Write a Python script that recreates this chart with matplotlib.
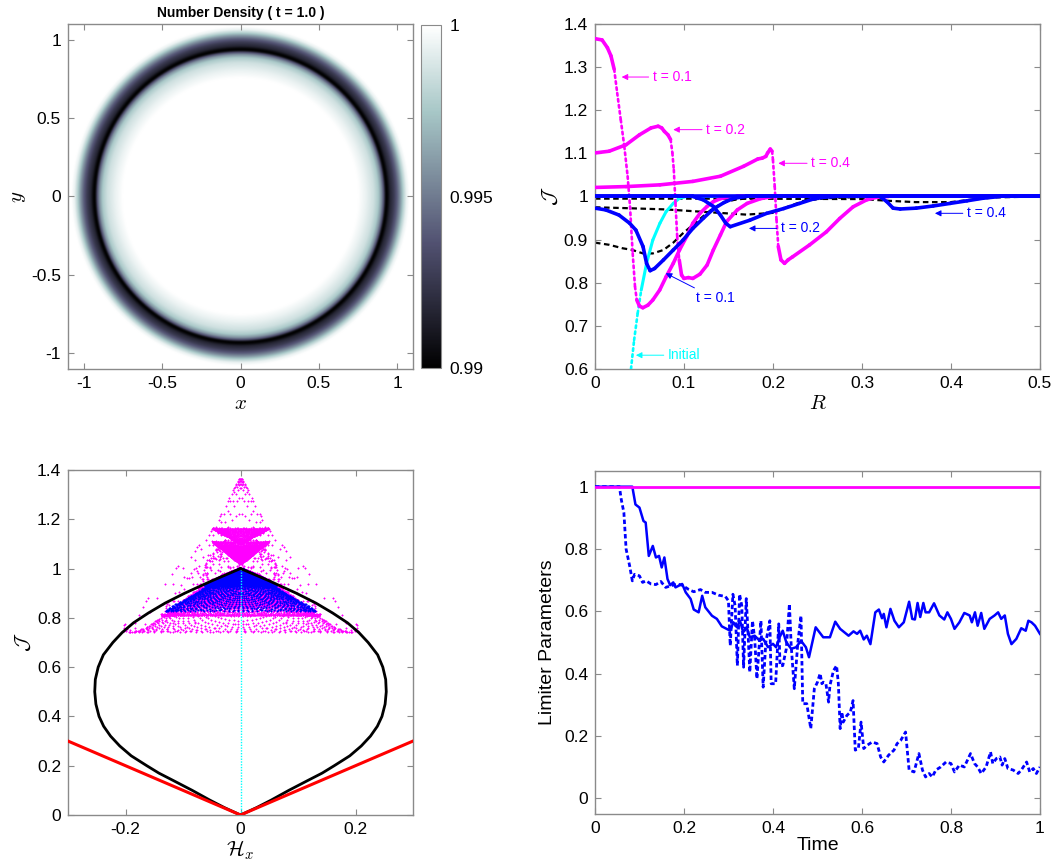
import numpy as np
import matplotlib
matplotlib.use("Agg")
import matplotlib.pyplot as plt
from matplotlib.collections import LineCollection
from matplotlib.ticker import FuncFormatter

plt.rcParams['font.family'] = ['Liberation Sans', 'DejaVu Sans']
plt.rcParams['mathtext.fontset'] = 'cm'

# ---------------- number density ring (radial profile at t = 1.0) ----------------
RING_R = [0.00, 0.75, 0.80, 0.85, 0.88, 0.90, 0.915, 0.925, 0.932, 0.940, 0.955, 0.980, 1.000, 1.020,
          1.040, 1.060, 1.080, 1.60]
RING_N = [1.0000, 1.0000, 0.9994, 0.9986, 0.9976, 0.9958, 0.9935, 0.9908, 0.9900, 0.9903, 0.9916,
          0.9927, 0.9940, 0.9958, 0.9979, 0.9994, 1.0000, 1.0000]
CBAR_TICKS = [0.99, 0.995, 1.0]

# ---------------- radial profiles of J (and flux magnitude H) ----------------
# magenta (no limiter) at t = 0.1, 0.2, 0.4
MAG1_R = [0.000, 0.008, 0.014, 0.018, 0.0216, 0.025, 0.029, 0.033, 0.0367, 0.0394, 0.0424, 0.045, 0.047,
          0.050, 0.0538, 0.0595, 0.065, 0.0727, 0.080, 0.088, 0.095, 0.103, 0.110, 0.118, 0.126, 0.133,
          0.141, 0.148, 0.160, 0.500]
MAG1_J = [1.366, 1.363, 1.345, 1.326, 1.295, 1.240, 1.178, 1.116, 1.047, 0.977, 0.868, 0.791, 0.760,
          0.746, 0.742, 0.748, 0.760, 0.783, 0.814, 0.845, 0.876, 0.907, 0.938, 0.961, 0.977, 0.988,
          0.995, 0.998, 1.000, 1.000]
MAG1_H = [0.000, 0.003, 0.007, 0.012, 0.018, 0.030, 0.045, 0.065, 0.092, 0.125, 0.165, 0.195, 0.208,
          0.205, 0.195, 0.180, 0.165, 0.150, 0.132, 0.115, 0.098, 0.080, 0.060, 0.043, 0.028, 0.017,
          0.008, 0.003, 0.000, 0.000]

MAG2_R = [0.000, 0.016, 0.035, 0.050, 0.063, 0.071, 0.075, 0.078, 0.082, 0.085, 0.087, 0.0886, 0.0905,
          0.0924, 0.0947, 0.0973, 0.100, 0.105, 0.110, 0.118, 0.126, 0.133, 0.141, 0.148, 0.160, 0.171,
          0.186, 0.200, 0.500]
MAG2_J = [1.101, 1.105, 1.120, 1.143, 1.159, 1.163, 1.159, 1.151, 1.143, 1.132, 1.101, 1.062, 0.984,
          0.907, 0.853, 0.818, 0.810, 0.812, 0.810, 0.820, 0.841, 0.876, 0.911, 0.942, 0.969, 0.984,
          0.995, 1.000, 1.000]
MAG2_H = [0.000, 0.003, 0.015, 0.033, 0.045, 0.049, 0.046, 0.040, 0.034, 0.025, 0.030, 0.055, 0.085,
          0.115, 0.130, 0.137, 0.139, 0.135, 0.132, 0.125, 0.112, 0.095, 0.075, 0.055, 0.035, 0.020,
          0.008, 0.000, 0.000]

MAG4_R = [0.000, 0.035, 0.073, 0.110, 0.141, 0.167, 0.183, 0.188, 0.192, 0.194, 0.197, 0.199, 0.200,
          0.202, 0.204, 0.206, 0.209, 0.213, 0.217, 0.222, 0.241, 0.260, 0.275, 0.290, 0.305, 0.316,
          0.330, 0.500]
MAG4_J = [1.021, 1.023, 1.027, 1.035, 1.047, 1.070, 1.087, 1.089, 1.093, 1.101, 1.110, 1.105, 1.085,
          1.023, 0.946, 0.884, 0.853, 0.845, 0.853, 0.860, 0.8875, 0.918, 0.949, 0.976, 0.992, 0.998,
          1.000, 1.000]
MAG4_H = [0.000, 0.001, 0.003, 0.008, 0.015, 0.027, 0.037, 0.038, 0.040, 0.045, 0.050, 0.047, 0.040,
          0.060, 0.070, 0.080, 0.088, 0.092, 0.090, 0.088, 0.075, 0.058, 0.040, 0.022, 0.010, 0.004,
          0.000, 0.000]

# blue (limited scheme) at t = 0.1, 0.2, 0.4
BLU1_R = [0.000, 0.012, 0.027, 0.039, 0.046, 0.054, 0.058, 0.062, 0.067, 0.077, 0.088, 0.099, 0.110,
          0.122, 0.133, 0.145, 0.156, 0.170, 0.500]
BLU1_J = [0.973, 0.969, 0.957, 0.938, 0.922, 0.884, 0.845, 0.828, 0.833, 0.853, 0.876, 0.899, 0.926,
          0.950, 0.971, 0.986, 0.996, 1.000, 1.000]
BLU1_H = [0.000, 0.008, 0.025, 0.045, 0.060, 0.090, 0.115, 0.130, 0.128, 0.115, 0.095, 0.078, 0.060,
          0.040, 0.022, 0.010, 0.003, 0.000, 0.000]

BLU2_R = [0.000, 0.110, 0.122, 0.133, 0.141, 0.147, 0.152, 0.174, 0.193, 0.212, 0.230, 0.245, 0.256,
          0.270, 0.500]
BLU2_J = [1.000, 1.000, 0.992, 0.977, 0.957, 0.938, 0.930, 0.945, 0.961, 0.972, 0.984, 0.994, 0.998,
          1.000, 1.000]
BLU2_H = [0.000, 0.000, 0.008, 0.025, 0.045, 0.058, 0.062, 0.052, 0.038, 0.027, 0.016, 0.007, 0.003,
          0.000, 0.000]

BLU4_R = [0.000, 0.320, 0.328, 0.335, 0.343, 0.361, 0.380, 0.399, 0.418, 0.436, 0.455, 0.500]
BLU4_J = [1.000, 1.000, 0.988, 0.973, 0.971, 0.973, 0.978, 0.984, 0.990, 0.996, 1.000, 1.000]
BLU4_H = [0.000, 0.000, 0.010, 0.022, 0.025, 0.023, 0.019, 0.014, 0.009, 0.004, 0.000, 0.000]

# black dashed reference solutions
REF1_R = [0.000, 0.016, 0.031, 0.042, 0.054, 0.065, 0.077, 0.088, 0.099, 0.110, 0.122, 0.133, 0.145,
          0.156, 0.171, 0.200, 0.500]
REF1_J = [0.893, 0.888, 0.880, 0.876, 0.868, 0.868, 0.876, 0.893, 0.915, 0.934, 0.955, 0.973, 0.986,
          0.992, 0.996, 0.999, 1.000]
REF2_R = [0.000, 0.035, 0.080, 0.140, 0.170, 0.200, 0.215, 0.235, 0.260, 0.300, 0.500]
REF2_J = [0.975, 0.973, 0.970, 0.962, 0.958, 0.962, 0.975, 0.990, 0.996, 0.999, 1.000]
REF4_R = [0.000, 0.150, 0.300, 0.330, 0.360, 0.400, 0.420, 0.450, 0.500]
REF4_J = [0.995, 0.995, 0.994, 0.990, 0.987, 0.987, 0.992, 0.998, 1.000]

# initial condition
INIT_R = [0.000, 0.020, 0.030, 0.036, 0.0405, 0.044, 0.048, 0.052, 0.058, 0.065, 0.073, 0.080, 0.088,
          0.095, 0.103, 0.500]
INIT_J = [0.000, 0.050, 0.200, 0.420, 0.600, 0.667, 0.729, 0.783, 0.845, 0.899, 0.938, 0.965, 0.984,
          0.996, 1.000, 1.000]

# realizability boundary (right half, mirrored for the left)
LENS_J = [0.00, 0.03, 0.06, 0.10, 0.14, 0.17, 0.20, 0.24, 0.28, 0.32, 0.36, 0.40, 0.45, 0.50,
          0.55, 0.60, 0.65, 0.70, 0.74, 0.78, 0.82, 0.86, 0.90, 0.95, 1.00]
LENS_H = [0.000, 0.028, 0.053, 0.084, 0.117, 0.142, 0.163, 0.190, 0.210, 0.226, 0.238, 0.246, 0.2515,
          0.2535, 0.2525, 0.2475, 0.2385, 0.222, 0.206, 0.186, 0.160, 0.131, 0.097, 0.050, 0.000]
CONE_H = [-0.3, 0.0, 0.3]
CONE_J = [0.3, 0.0, 0.3]

# ---------------- limiter parameters vs time ----------------
THETA_T = [0.0, 1.0]
THETA_V = [1.0, 1.0]
SOLID_T = [0.000, 0.084, 0.091, 0.100, 0.109, 0.114, 0.121, 0.130, 0.137, 0.144,
           0.150, 0.156, 0.163, 0.169, 0.176, 0.181, 0.196, 0.204, 0.215, 0.222,
           0.233, 0.241, 0.248, 0.263, 0.274, 0.285, 0.304, 0.311, 0.319, 0.326,
           0.333, 0.341, 0.348, 0.359, 0.370, 0.378, 0.389, 0.400, 0.407, 0.415,
           0.422, 0.430, 0.441, 0.452, 0.463, 0.474, 0.481, 0.496, 0.513, 0.528,
           0.540, 0.551, 0.570, 0.581, 0.589, 0.596, 0.604, 0.611, 0.619, 0.630,
           0.638, 0.645, 0.649, 0.655, 0.664, 0.673, 0.683, 0.694, 0.706, 0.713,
           0.719, 0.725, 0.731, 0.738, 0.743, 0.751, 0.762, 0.774, 0.785, 0.792,
           0.800, 0.808, 0.819, 0.830, 0.842, 0.847, 0.854, 0.860, 0.868, 0.875,
           0.887, 0.898, 0.906, 0.913, 0.921, 0.928, 0.936, 0.947, 0.958, 0.968,
           0.974, 0.981, 0.989, 1.000]
SOLID_V = [1.000, 1.000, 0.943, 0.933, 0.890, 0.885, 0.778, 0.810, 0.773, 0.778,
           0.741, 0.773, 0.704, 0.684, 0.693, 0.677, 0.688, 0.661, 0.640, 0.606,
           0.597, 0.650, 0.613, 0.586, 0.576, 0.552, 0.538, 0.565, 0.549, 0.570,
           0.533, 0.549, 0.517, 0.522, 0.506, 0.512, 0.485, 0.496, 0.485, 0.517,
           0.538, 0.501, 0.480, 0.485, 0.506, 0.485, 0.453, 0.549, 0.517, 0.517,
           0.567, 0.544, 0.522, 0.536, 0.528, 0.538, 0.510, 0.522, 0.495, 0.597,
           0.606, 0.578, 0.592, 0.549, 0.608, 0.570, 0.549, 0.565, 0.631, 0.576,
           0.574, 0.627, 0.582, 0.627, 0.597, 0.597, 0.626, 0.587, 0.574, 0.597,
           0.576, 0.544, 0.565, 0.595, 0.587, 0.565, 0.597, 0.554, 0.595, 0.544,
           0.576, 0.587, 0.597, 0.576, 0.587, 0.528, 0.495, 0.512, 0.546, 0.538,
           0.570, 0.565, 0.554, 0.528]
DASH_T = [0.000, 0.055, 0.059, 0.065, 0.070, 0.078, 0.084, 0.089, 0.100, 0.107,
          0.115, 0.126, 0.137, 0.148, 0.159, 0.170, 0.185, 0.196, 0.211, 0.222,
          0.237, 0.248, 0.263, 0.278, 0.293, 0.300, 0.304, 0.310, 0.315, 0.320,
          0.325, 0.330, 0.334, 0.340, 0.344, 0.348, 0.354, 0.359, 0.364, 0.373,
          0.378, 0.384, 0.393, 0.396, 0.406, 0.413, 0.416, 0.422, 0.430, 0.437,
          0.441, 0.448, 0.456, 0.463, 0.467, 0.476, 0.485, 0.493, 0.500, 0.506,
          0.510, 0.513, 0.519, 0.525, 0.528, 0.536, 0.543, 0.547, 0.551, 0.555,
          0.558, 0.566, 0.574, 0.580, 0.585, 0.592, 0.598, 0.604, 0.611, 0.623,
          0.634, 0.642, 0.649, 0.660, 0.672, 0.679, 0.687, 0.698, 0.706, 0.717,
          0.728, 0.736, 0.743, 0.751, 0.758, 0.766, 0.777, 0.789, 0.800, 0.808,
          0.819, 0.830, 0.844, 0.853, 0.860, 0.868, 0.879, 0.889, 0.894, 0.902,
          0.910, 0.915, 0.921, 0.928, 0.940, 0.951, 0.958, 0.970, 0.977, 0.985,
          0.992, 1.000]
DASH_V = [1.000, 1.000, 0.960, 0.917, 0.800, 0.746, 0.698, 0.719, 0.714, 0.693,
          0.698, 0.688, 0.686, 0.696, 0.677, 0.682, 0.688, 0.684, 0.670, 0.663,
          0.670, 0.661, 0.661, 0.652, 0.648, 0.634, 0.490, 0.655, 0.618, 0.426,
          0.655, 0.618, 0.421, 0.641, 0.533, 0.405, 0.570, 0.512, 0.384, 0.570,
          0.357, 0.501, 0.570, 0.368, 0.368, 0.560, 0.426, 0.426, 0.480, 0.624,
          0.490, 0.352, 0.501, 0.586, 0.304, 0.304, 0.224, 0.352, 0.373, 0.401,
          0.368, 0.373, 0.368, 0.309, 0.362, 0.410, 0.426, 0.368, 0.224, 0.277,
          0.245, 0.266, 0.277, 0.314, 0.155, 0.160, 0.245, 0.160, 0.170, 0.181,
          0.176, 0.133, 0.117, 0.139, 0.155, 0.176, 0.186, 0.213, 0.091, 0.085,
          0.144, 0.091, 0.069, 0.080, 0.069, 0.091, 0.101, 0.117, 0.112, 0.085,
          0.107, 0.101, 0.144, 0.112, 0.101, 0.080, 0.101, 0.149, 0.112, 0.128,
          0.133, 0.107, 0.128, 0.096, 0.091, 0.080, 0.091, 0.117, 0.085, 0.096,
          0.080, 0.101]

MAGENTA = '#ff00ff'
BLUE = '#0000ff'
CYAN = '#00ffff'
FRAME = '#8a8a8a'
TICK_FS = 12.5
fmt = FuncFormatter(lambda v, p: '%g' % round(v, 4))


def style_axes(ax):
    for s in ax.spines.values():
        s.set_color(FRAME)
        s.set_linewidth(1.0)
    ax.tick_params(direction='in', top=True, right=True, length=4, width=0.8,
                   color=FRAME, labelsize=TICK_FS, pad=5)
    ax.xaxis.set_major_formatter(fmt)
    ax.yaxis.set_major_formatter(fmt)


def profile_line(ax, R, J, color, lw=2.6, steep=14.0, z=3):
    R = np.asarray(R, float)
    J = np.asarray(J, float)
    pts = np.column_stack([R, J])
    segs = np.stack([pts[:-1], pts[1:]], axis=1)
    slope = np.abs(np.diff(J) / np.diff(R))
    styles = [(0, (1.0, 1.3)) if s > steep else 'solid' for s in slope]
    widths = [1.9 if s > steep else lw for s in slope]
    lc = LineCollection(segs, colors=color, linewidths=widths, linestyles=styles,
                        capstyle='round', joinstyle='round', zorder=z)
    ax.add_collection(lc)


def note(ax, text, xy, xytext, color):
    ax.annotate(text, xy=xy, xytext=xytext, color=color, fontsize=10, ha='left', va='center',
                family=['Liberation Sans Narrow', 'Liberation Sans'],
                arrowprops=dict(arrowstyle='-|>', color=color, lw=0.7, mutation_scale=9,
                                shrinkA=1, shrinkB=0), zorder=8)


fig = plt.figure(figsize=(10.56, 8.66), dpi=100)

# ---------------- top-left: density map ----------------
ax1 = fig.add_axes([0.0644, 0.5739, 0.3267, 0.3984])
g = np.linspace(-1.1, 1.1, 800)
GX, GY = np.meshgrid(g, g)
dens = np.interp(np.hypot(GX, GY), RING_R, RING_N)
im = ax1.imshow(dens, extent=[-1.1, 1.1, -1.1, 1.1], origin='lower', cmap='bone',
                vmin=0.99, vmax=1.0, interpolation='bilinear', aspect='auto')
ax1.set_xlim(-1.1, 1.1)
ax1.set_ylim(-1.1, 1.1)
ax1.set_xticks([-1, -0.5, 0, 0.5, 1])
ax1.set_yticks([-1, -0.5, 0, 0.5, 1])
style_axes(ax1)
ax1.set_xlabel(r'$x$', fontsize=15, labelpad=2)
ax1.set_ylabel(r'$y$', fontsize=15, labelpad=2)
ax1.set_title('Number Density ( t = 1.0 )', fontsize=10, fontweight='bold', pad=5)

cax = fig.add_axes([0.3987, 0.575, 0.0189, 0.396])
cb = fig.colorbar(im, cax=cax, ticks=CBAR_TICKS)
cb.ax.set_yticklabels(['%g' % v for v in CBAR_TICKS])
cb.outline.set_edgecolor(FRAME)
cb.ax.tick_params(direction='in', length=0, labelsize=TICK_FS, pad=6)

# ---------------- top-right: J vs R ----------------
ax2 = fig.add_axes([0.5634, 0.5739, 0.4214, 0.3984])
for R, J in [(REF1_R, REF1_J), (REF2_R, REF2_J), (REF4_R, REF4_J)]:
    ax2.plot(R, J, color='k', lw=1.6, ls=(0, (2.5, 1.6)), zorder=2)
profile_line(ax2, INIT_R, INIT_J, CYAN, lw=2.2, steep=11.0, z=3)
for R, J in [(MAG1_R, MAG1_J), (MAG2_R, MAG2_J), (MAG4_R, MAG4_J)]:
    profile_line(ax2, R, J, MAGENTA, z=4)
for R, J in [(BLU1_R, BLU1_J), (BLU2_R, BLU2_J), (BLU4_R, BLU4_J)]:
    profile_line(ax2, R, J, BLUE, z=5)
ax2.set_xlim(0, 0.5)
ax2.set_ylim(0.6, 1.4)
ax2.set_xticks(np.arange(0, 0.51, 0.1))
ax2.set_yticks(np.arange(0.6, 1.41, 0.1))
style_axes(ax2)
ax2.set_xlabel(r'$R$', fontsize=15, labelpad=2)
ax2.set_ylabel(r'$\mathcal{J}$', fontsize=15, labelpad=2)

note(ax2, 't = 0.1', (0.030, 1.277), (0.065, 1.277), MAGENTA)
note(ax2, 't = 0.2', (0.088, 1.155), (0.125, 1.155), MAGENTA)
note(ax2, 't = 0.4', (0.206, 1.077), (0.243, 1.077), MAGENTA)
note(ax2, 't = 0.4', (0.382, 0.961), (0.418, 0.961), BLUE)
note(ax2, 't = 0.2', (0.173, 0.926), (0.209, 0.926), BLUE)
note(ax2, 't = 0.1', (0.0795, 0.822), (0.113, 0.764), BLUE)
note(ax2, 'Initial', (0.046, 0.632), (0.082, 0.632), CYAN)

# ---------------- bottom-left: (H_x, J) state space ----------------
ax3 = fig.add_axes([0.0644, 0.0589, 0.3267, 0.3984])
DX = 0.004
cells = np.arange(-1 + DX / 2, 1, DX)
CX, CY = np.meshgrid(cells, cells)
rr = np.hypot(CX, CY).ravel()
cosx = CX.ravel() / rr
near = rr < 0.5
rr, cosx = rr[near], cosx[near]


def state_cloud(R, J, H, color):
    Jv = np.interp(rr, R, J)
    Hv = np.interp(rr, R, H) * cosx
    busy = (Jv < 0.9999) | (np.abs(Hv) > 1e-6)
    Jv = np.append(Jv[busy], 1.0)
    Hv = np.append(Hv[busy], 0.0)
    ax3.scatter(Hv, Jv, s=1.5, c=color, linewidths=0, zorder=3)


for R, J, H in [(MAG1_R, MAG1_J, MAG1_H), (MAG2_R, MAG2_J, MAG2_H), (MAG4_R, MAG4_J, MAG4_H)]:
    state_cloud(R, J, H, MAGENTA)
for R, J, H in [(BLU1_R, BLU1_J, BLU1_H), (BLU2_R, BLU2_J, BLU2_H), (BLU4_R, BLU4_J, BLU4_H)]:
    state_cloud(R, J, H, BLUE)
ax3.plot(np.zeros(len(INIT_J)), INIT_J, color=CYAN, lw=1.0, ls=(0, (1, 1)), zorder=4)
lh = np.asarray(LENS_H)
ax3.plot(lh, LENS_J, color='k', lw=2.0, zorder=5, solid_joinstyle='round')
ax3.plot(-lh, LENS_J, color='k', lw=2.0, zorder=5, solid_joinstyle='round')
ax3.plot(CONE_H, CONE_J, color='#ff0000', lw=2.2, zorder=6)
ax3.set_xlim(-0.3, 0.3)
ax3.set_ylim(0, 1.4)
ax3.set_xticks([-0.2, 0, 0.2])
ax3.set_yticks(np.arange(0, 1.41, 0.2))
style_axes(ax3)
ax3.set_xlabel(r'$\mathcal{H}_x$', fontsize=15, labelpad=1)
ax3.set_ylabel(r'$\mathcal{J}$', fontsize=15, labelpad=2)

# ---------------- bottom-right: limiter parameters ----------------
ax4 = fig.add_axes([0.5634, 0.0600, 0.4214, 0.396])
ax4.plot(SOLID_T, SOLID_V, color=BLUE, lw=1.8, zorder=3)
ax4.plot(DASH_T, DASH_V, color=BLUE, lw=2.0, ls=(0, (1.6, 1.0)), zorder=3)
ax4.plot(THETA_T, THETA_V, color=MAGENTA, lw=2.0, zorder=4)
ax4.set_xlim(0, 1)
ax4.set_ylim(-0.05, 1.05)
ax4.set_xticks(np.arange(0, 1.01, 0.2))
ax4.set_yticks(np.arange(0, 1.01, 0.2))
style_axes(ax4)
ax4.set_xlabel('Time', fontsize=14, labelpad=1)
ax4.set_ylabel('Limiter Parameters', fontsize=14, labelpad=6)

fig.savefig('out.png', dpi=100)
